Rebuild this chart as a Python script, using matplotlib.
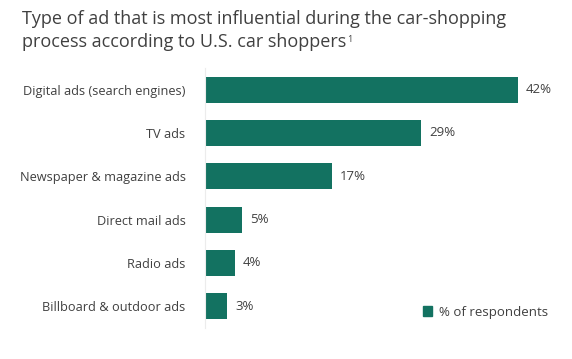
import matplotlib.pyplot as plt
from matplotlib.patches import Patch

categories = ['Digital ads (search engines)', 'TV ads', 'Newspaper & magazine ads',
              'Direct mail ads', 'Radio ads', 'Billboard & outdoor ads']
values = [42, 29, 17, 5, 4, 3]
series_name = '% of respondents'

bar_color = '#137261'
text_color = '#404040'

plt.rcParams['font.family'] = ['Open Sans', 'DejaVu Sans']

fig = plt.figure(figsize=(5.72, 3.59), dpi=100)
ax = fig.add_axes([205 / 572, 1 - 328 / 359, 355 / 572, 260 / 359])

y = list(range(len(categories)))
ax.barh(y, values, height=0.6, color=bar_color)
ax.set_ylim(len(categories) - 0.5, -0.5)
ax.set_xlim(0, 47.65)

for yi, v in zip(y, values):
    ax.text(v + 1.1, yi, f'{v}%', va='center', ha='left', fontsize=9.5, color=text_color)

ax.set_yticks(y)
ax.set_yticklabels(categories, fontsize=9.2, color=text_color)
ax.tick_params(axis='y', length=0, pad=14)
ax.set_xticks([])
for side in ['top', 'right', 'bottom']:
    ax.spines[side].set_visible(False)
ax.spines['left'].set_color('#ececec')
ax.spines['left'].set_linewidth(0.8)

# title, two lines plus a small footnote mark
fig.text(22 / 572, 1 - 10 / 359, 'Type of ad that is most influential during the car-shopping',
         ha='left', va='top', fontsize=13, color=text_color)
line2 = fig.text(22 / 572, 1 - 33 / 359, 'process according to U.S. car shoppers',
                 ha='left', va='top', fontsize=13, color=text_color)
ax.annotate('1', xy=(1, 0.9), xycoords=line2, xytext=(1, 0), textcoords='offset points',
            ha='left', va='top', fontsize=6.5, color=text_color)

ax.legend(handles=[Patch(color=bar_color)], labels=[series_name], loc='lower right',
          frameon=False, fontsize=9.5, handlelength=0.7, handleheight=0.7,
          handletextpad=0.5, labelcolor=text_color, bbox_to_anchor=(1.0, -0.01))

fig.savefig('out.png', dpi=100)
